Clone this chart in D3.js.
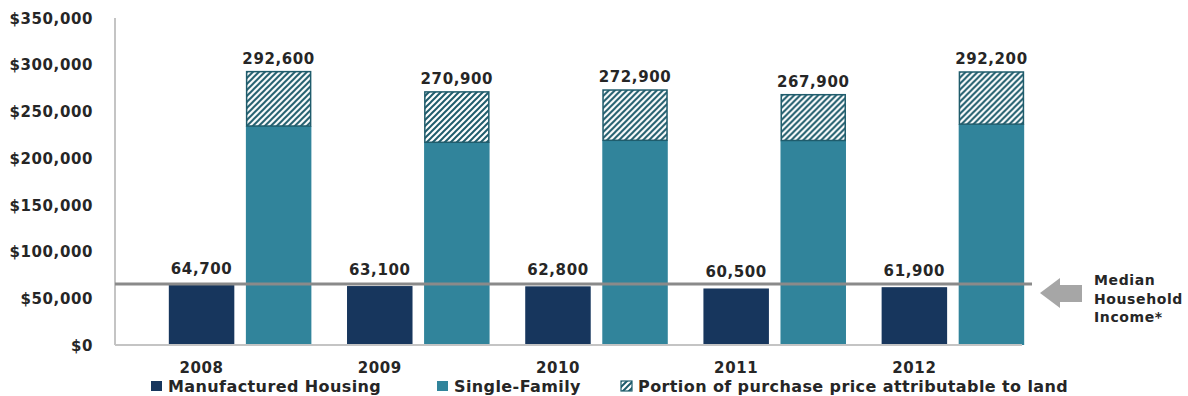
<!DOCTYPE html>
<html>
<head>
<meta charset="utf-8">
<script src="https://cdn.jsdelivr.net/npm/d3@7/dist/d3.min.js"></script>
<style>
  html, body { margin: 0; padding: 0; background: #ffffff; }
  svg { display: block; }
  text { font-family: "DejaVu Sans", Verdana, sans-serif; font-weight: bold; fill: #262626; }
</style>
</head>
<body>
<svg id="chart" width="1188" height="396"></svg>
<script>
// Home prices by year: manufactured vs. new single-family (with land share)
const years = ["2008", "2009", "2010", "2011", "2012"];
const manufactured = [64700, 63100, 62800, 60500, 61900];
const singleFamily = [292600, 270900, 272900, 267900, 292200];
const landPortion = [58200, 53900, 53800, 49000, 55800];
const medianIncome = 65300;
const yTicks = [0, 50000, 100000, 150000, 200000, 250000, 300000, 350000];
const legendLabels = ["Manufactured Housing", "Single-Family", "Portion of purchase price attributable to land"];
const incomeLabel = ["Median", "Household", "Income*"];

const colors = { manufactured: "#17365d", single: "#31849b", hatch: "#1f5c6c", axis: "#c4c4c4", median: "#8a8a8a", arrow: "#a6a6a6" };

const svg = d3.select("#chart");

// pattern for the land share
const defs = svg.append("defs");
const pat = defs.append("pattern")
  .attr("id", "landHatch")
  .attr("patternUnits", "userSpaceOnUse")
  .attr("width", 6).attr("height", 6);
pat.append("rect").attr("width", 6).attr("height", 6).attr("fill", "#ffffff");
pat.append("path")
  .attr("d", "M-1,1 l2,-2 M0,6 l6,-6 M5,7 l2,-2")
  .attr("stroke", colors.hatch).attr("stroke-width", 2);

const y = d3.scaleLinear().domain([0, 350000]).range([345, 18]);
const x0 = d3.scaleBand().domain(years).range([151, 1042]).paddingInner(0.2).paddingOuter(0.1);
const x1 = d3.scaleBand().domain(["manufactured", "single"]).range([0, x0.bandwidth()]).paddingInner(0.15);

const rows = years.map((yr, i) => ({
  year: yr,
  manufactured: manufactured[i],
  single: singleFamily[i],
  land: landPortion[i]
}));

// y axis
const yAxis = d3.axisLeft(y).tickValues(yTicks).tickSize(0).tickPadding(0)
  .tickFormat(d => "$" + d3.format(",")(d));
const gy = svg.append("g").attr("transform", "translate(93,0)").call(yAxis);
gy.select(".domain").remove();
gy.selectAll("text").attr("font-size", 15).attr("letter-spacing", 0.6)
  .attr("fill", "#262626").attr("font-family", "DejaVu Sans, sans-serif").attr("font-weight", "bold")
  .attr("dy", "0.35em");

svg.append("line").attr("x1", 115).attr("x2", 115).attr("y1", 18).attr("y2", y(0))
  .attr("stroke", colors.axis).attr("stroke-width", 2);

// bars
const groups = svg.append("g").selectAll("g").data(rows).join("g")
  .attr("transform", d => `translate(${x0(d.year)},0)`);

groups.append("rect")
  .attr("x", x1("manufactured")).attr("width", x1.bandwidth())
  .attr("y", d => y(d.manufactured)).attr("height", d => y(0) - y(d.manufactured))
  .attr("fill", colors.manufactured);

groups.append("rect")
  .attr("x", x1("single")).attr("width", x1.bandwidth())
  .attr("y", d => y(d.single - d.land)).attr("height", d => y(0) - y(d.single - d.land))
  .attr("fill", colors.single);

groups.append("rect")
  .attr("x", x1("single") + 0.75).attr("width", x1.bandwidth() - 1.5)
  .attr("y", d => y(d.single)).attr("height", d => y(d.single - d.land) - y(d.single))
  .attr("fill", "url(#landHatch)")
  .attr("stroke", colors.hatch).attr("stroke-width", 1.5);

// x baseline
svg.append("line").attr("x1", 115).attr("x2", 1022).attr("y1", y(0)).attr("y2", y(0))
  .attr("stroke", colors.axis).attr("stroke-width", 2);

// median household income reference line
svg.append("line").attr("x1", 115).attr("x2", 1032).attr("y1", y(medianIncome)).attr("y2", y(medianIncome))
  .attr("stroke", colors.median).attr("stroke-width", 3);

// value labels
groups.append("text")
  .attr("x", x1("manufactured") + x1.bandwidth() / 2)
  .attr("y", d => y(d.manufactured) - 11)
  .attr("text-anchor", "middle").attr("font-size", 15).attr("letter-spacing", 0.6)
  .text(d => d3.format(",")(d.manufactured));

groups.append("text")
  .attr("x", x1("single") + x1.bandwidth() / 2)
  .attr("y", d => y(d.single) - 8)
  .attr("text-anchor", "middle").attr("font-size", 15).attr("letter-spacing", 0.6)
  .text(d => d3.format(",")(d.single));

// year labels
groups.append("text")
  .attr("x", x1("manufactured") + x1.bandwidth() / 2)
  .attr("y", 373)
  .attr("text-anchor", "middle").attr("font-size", 15).attr("letter-spacing", 0.6)
  .text(d => d.year);

// arrow pointing at the income line
svg.append("path")
  .attr("d", "M1040,293 L1060,278 L1060,285 L1082,285 L1082,302 L1060,302 L1060,308 Z")
  .attr("fill", colors.arrow);

svg.append("g").selectAll("text").data(incomeLabel).join("text")
  .attr("x", 1094).attr("y", (d, i) => 285 + i * 18.5)
  .attr("font-size", 14).attr("letter-spacing", 0.6)
  .text(d => d);

// legend
const legendX = [151, 437, 621];
const legendFills = [colors.manufactured, colors.single, "url(#landHatch)"];
const legend = svg.append("g").selectAll("g").data(legendLabels).join("g")
  .attr("transform", (d, i) => `translate(${legendX[i]},381)`);
legend.append("rect")
  .attr("width", 11).attr("height", 10)
  .attr("fill", (d, i) => legendFills[i])
  .attr("stroke", (d, i) => i === 2 ? colors.hatch : "none").attr("stroke-width", 1.2);
legend.append("text")
  .attr("x", 17).attr("y", 11)
  .attr("font-size", 16).attr("letter-spacing", 0.4)
  .text(d => d);
</script>
</body>
</html>
